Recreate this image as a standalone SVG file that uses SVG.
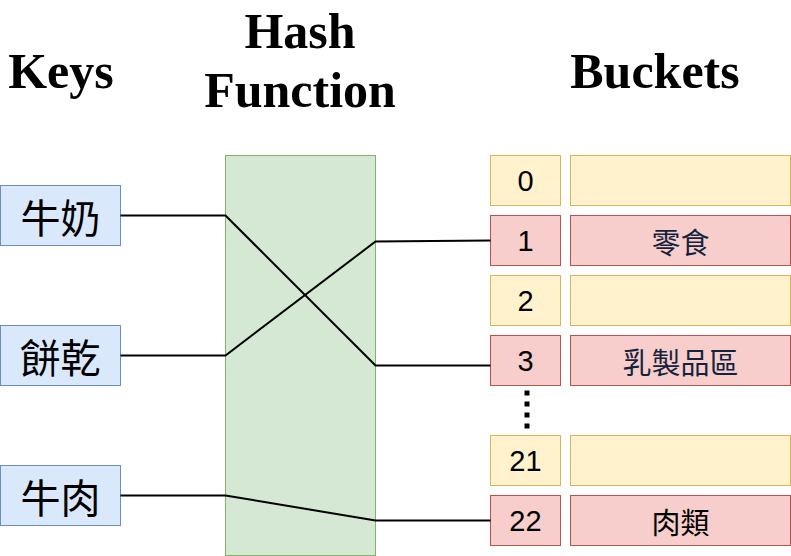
<svg xmlns="http://www.w3.org/2000/svg" width="791" height="556" viewBox="0 0 791 556">
<style>
.title{font-family:"Liberation Serif","Times New Roman",serif;font-weight:bold;font-size:50px;fill:#000;text-anchor:middle}
.key rect{fill:#dae8fc;stroke:#6c8ebf;stroke-width:1}
.key text{font-family:"Noto Sans CJK TC","Noto Sans CJK SC",sans-serif;font-size:40px;fill:#000;text-anchor:middle;dominant-baseline:central}
.empty rect{fill:#fff2cc;stroke:#d6b656;stroke-width:1}
.full rect{fill:#f8cecc;stroke:#b85450;stroke-width:1}
.num{font-family:"Liberation Sans",Arial,sans-serif;font-size:29px;fill:#000;text-anchor:middle;dominant-baseline:central}
.val{font-family:"Noto Sans CJK TC","Noto Sans CJK SC",sans-serif;font-size:29px;fill:#14233d;text-anchor:middle;dominant-baseline:central}
.conn path{fill:none;stroke:#000;stroke-width:2}
</style>
<g id="titles">
<text class="title" x="61" y="88">Keys</text>
<text class="title" x="300" y="48">Hash</text>
<text class="title" x="300" y="107">Function</text>
<text class="title" x="655" y="88">Buckets</text>
</g>
<g id="hash-function"><rect x="225.5" y="155.5" width="150" height="400" fill="#d5e8d4" stroke="#82b366" stroke-width="1"/></g>
<g id="key-milk" class="key"><rect x="0.5" y="185.5" width="120" height="60"/><text x="60.5" y="216">牛奶</text></g>
<g id="key-biscuit" class="key"><rect x="0.5" y="325.5" width="120" height="60"/><text x="60.5" y="356">餅乾</text></g>
<g id="key-beef" class="key"><rect x="0.5" y="465.5" width="120" height="60"/><text x="60.5" y="496">牛肉</text></g>
<g id="bucket-0" class="empty"><rect x="490.5" y="155.5" width="70" height="50"/><text class="num" x="525.5" y="181">0</text></g>
<g id="value-0" class="empty"><rect x="570.5" y="155.5" width="220" height="50"/></g>
<g id="bucket-1" class="full"><rect x="490.5" y="215.5" width="70" height="50"/><text class="num" x="525.5" y="241">1</text></g>
<g id="value-1" class="full"><rect x="570.5" y="215.5" width="220" height="50"/><text class="val" x="680.5" y="241">零食</text></g>
<g id="bucket-2" class="empty"><rect x="490.5" y="275.5" width="70" height="50"/><text class="num" x="525.5" y="301">2</text></g>
<g id="value-2" class="empty"><rect x="570.5" y="275.5" width="220" height="50"/></g>
<g id="bucket-3" class="full"><rect x="490.5" y="335.5" width="70" height="50"/><text class="num" x="525.5" y="361">3</text></g>
<g id="value-3" class="full"><rect x="570.5" y="335.5" width="220" height="50"/><text class="val" x="680.5" y="361">乳製品區</text></g>
<g id="ellipsis"><line x1="527" y1="390.5" x2="527" y2="430" stroke="#000" stroke-width="5" stroke-dasharray="5 6"/></g>
<g id="bucket-21" class="empty"><rect x="490.5" y="435.5" width="70" height="50"/><text class="num" x="525.5" y="461">21</text></g>
<g id="value-21" class="empty"><rect x="570.5" y="435.5" width="220" height="50"/></g>
<g id="bucket-22" class="full"><rect x="490.5" y="495.5" width="70" height="50"/><text class="num" x="525.5" y="521">22</text></g>
<g id="value-22" class="full"><rect x="570.5" y="495.5" width="220" height="50"/><text class="val" x="680.5" y="521" style="fill:#000">肉類</text></g>
<g id="connectors" class="conn">
<path d="M120.5 215.5 L225.5 215.5 L375.5 365.5 L490.5 365.5"/>
<path d="M120.5 355.5 L225.5 355.5 L375.5 241.5 L490.5 240.5"/>
<path d="M120.5 495.5 L225.5 495.5 L375.5 520.5 L490.5 520.5"/>
</g>
</svg>
